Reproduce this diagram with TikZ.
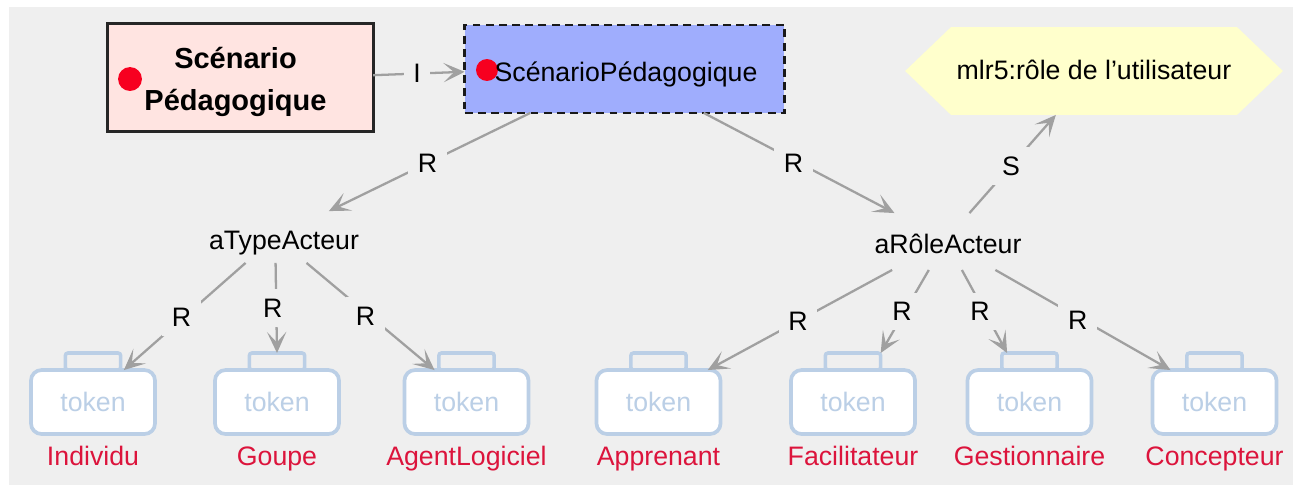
\documentclass[tikz,border=0pt]{standalone}
\usepackage{fontspec}
\setmainfont{Liberation Sans}
\usepackage{tikz}
\usetikzlibrary{positioning,arrows.meta,shapes.symbols}

\definecolor{bggray}{HTML}{EFEFEF}
\definecolor{linegray}{HTML}{A0A0A0}
\definecolor{tokenblue}{HTML}{BBCFE6}
\definecolor{rolered}{HTML}{DC143C}
\definecolor{dotred}{HTML}{F70020}
\definecolor{scenariopink}{HTML}{FFE4E1}
\definecolor{pedablue}{HTML}{9FADFD}
\definecolor{mlryellow}{HTML}{FFFFCC}

\tikzset{
    conn/.style={draw=linegray,line width=1.3pt,-{Stealth[length=12pt,width=11pt,inset=6pt]}},
    edgelabel/.style={fill=bggray,text=black,inner sep=5.5pt,outer sep=0pt,font=\fontsize{15.2}{18}\selectfont},
    tokenbody/.style={rectangle,draw=tokenblue,fill=white,line width=2.1pt,rounded corners=6pt,minimum width=70.6pt,minimum height=36.4pt,inner sep=0pt,outer sep=0pt,text=tokenblue,font=\fontsize{15.2}{18}\selectfont},
    tokentab/.style={rectangle,draw=tokenblue,line width=2pt,rounded corners=1.5pt,minimum width=31.5pt,minimum height=9.7pt,inner sep=0pt,outer sep=0pt},
    rolelabel/.style={text=rolered,inner sep=0pt,outer sep=0pt,text height=11pt,text depth=3pt,font=\fontsize{15.2}{18}\selectfont},
    plain/.style={inner sep=0pt,outer sep=0pt,font=\fontsize{15.2}{18}\selectfont},
    reddot/.style={circle,fill=dotred,inner sep=0pt,outer sep=0pt}
}

\begin{document}
\begin{tikzpicture}[x=0.02cm,y=-0.02cm]

\useasboundingbox (0,0) rectangle (1293,485);
\fill[white] (0,0) rectangle (1293,485);
\fill[bggray] (9,7) rectangle (1293,485);

\node[rectangle,draw=black!85,fill=scenariopink,line width=1.7pt,minimum width=151pt,minimum height=61pt,inner sep=0pt,outer sep=0pt,align=center,font=\fontsize{16.5}{24}\selectfont\bfseries] (scenario) at (240.5,77.5) {\rule{0pt}{17pt}Scénario\hspace*{5.7pt}\\Pédagogique\hspace*{5.7pt}};
\node[reddot,minimum size=13.6pt] (dotScenario) at (130,79) {};

\node[rectangle,draw=black!90,fill=pedablue,line width=1.3pt,dash pattern=on 4.5pt off 3pt,minimum width=182pt,minimum height=50pt,inner sep=0pt,outer sep=0pt] (peda) at (624.5,69) {};
\node[reddot,minimum size=12.5pt] (dotPeda) at (487,70) {};
\node[plain] (pedaText) at (626,74) {ScénarioPédagogique};

\node[signal,signal to=west and east,signal pointer angle=87.5,fill=mlryellow,minimum width=215pt,minimum height=50pt,inner sep=0pt,outer sep=0pt,text height=12.5pt,text depth=2.5pt,font=\fontsize{15.2}{18}\selectfont] (mlr) at (1094,71) {mlr5:rôle de l’utilisateur};

\node[plain,text height=22.1pt,text depth=7.4pt] (aType) at (284,237) {aTypeActeur};
\node[plain,text height=23.3pt,text depth=9.1pt] (aRole) at (948,241.5) {aRôleActeur};

\foreach \name/\x in {Individu/93, Goupe/277, AgentLogiciel/466.5, Apprenant/658.5, Facilitateur/853, Gestionnaire/1029.5, Concepteur/1214.5} {
    \node[tokenbody] (body\name) at (\x,402) {token};
    \node[tokentab,above=0pt of body\name] (tab\name) {};
    \node[rolelabel,below=7.2pt of body\name] (label\name) {\name};
}

\draw[conn] (scenario.1.5) -- node[edgelabel,pos=.48] (lI) {I} (peda.181.8);
\draw[conn] (peda.205.4) -- node[edgelabel,pos=.51] (lType) {R} (aType.30.6);
\draw[conn] (peda.331.9) -- node[edgelabel,pos=.47,yshift=-2pt] (lRole) {R} (aRole.152.2);
\draw[conn] (aRole.53.6) -- node[edgelabel,pos=.48] (lS) {S} (mlr.229);

\draw[conn] (aType.214.4) -- node[edgelabel,pos=.54,xshift=1pt,yshift=2pt] (l1) {R} (bodyIndividu.46.8);
\draw[conn] (aType.252.9) -- node[edgelabel,pos=.5,xshift=-2pt] (l2) {R} (tabGoupe.north);
\draw[conn] (aType.311.5) -- node[edgelabel,pos=.46,yshift=-2.2pt] (l3) {R} (bodyAgentLogiciel.135);

\draw[conn] (aRole.207) -- node[edgelabel,pos=.51] (l4) {R} (bodyApprenant.33);
\draw[conn] (aRole.236.3) -- node[edgelabel,pos=.5,xshift=-1.5pt] (l5) {R} (tabFacilitateur.north east);
\draw[conn] (aRole.296.2) -- node[edgelabel,pos=.5,xshift=-2.5pt] (l6) {R} ([xshift=3pt]tabGestionnaire.north west);
\draw[conn] (aRole.329.8) -- node[edgelabel,pos=.47,yshift=-2pt] (l7) {R} (bodyConcepteur.144.3);

\end{tikzpicture}
\end{document}
